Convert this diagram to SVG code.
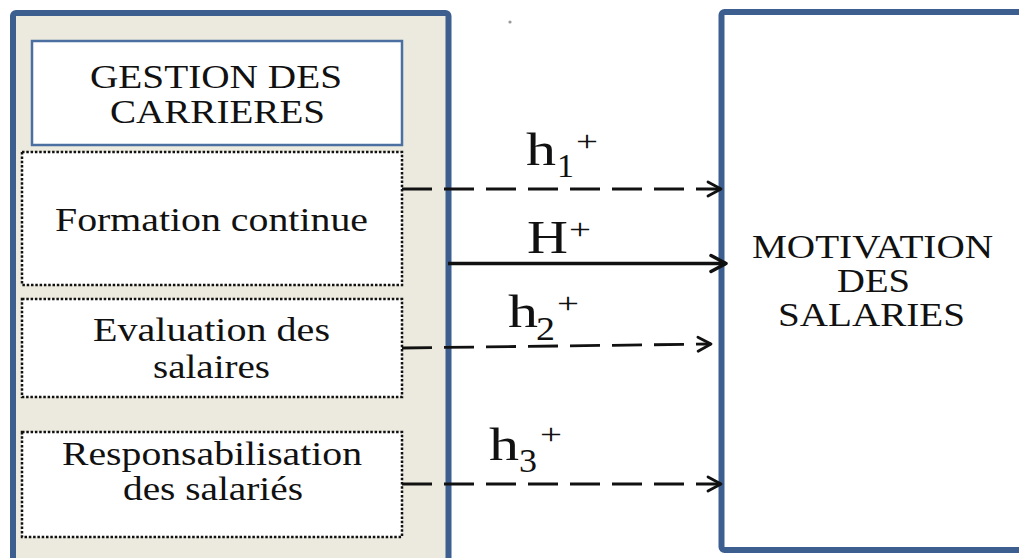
<svg xmlns="http://www.w3.org/2000/svg" width="1019" height="558" viewBox="0 0 1019 558">
<defs>
<style>
.t{font-family:"Liberation Serif","Times New Roman",serif;font-size:34px;fill:#111}
.lbl{font-family:"Liberation Serif","Times New Roman",serif;fill:#111}
.big{font-size:46px}
.sm{font-size:34px}
.sup{font-size:30px}
.panel{fill:#eceade;stroke:#3d5f8f;stroke-width:6}
.head{fill:#fff;stroke:#4a6fa0;stroke-width:2.5}
.dot{fill:#fff;stroke:#111;stroke-width:2.5;stroke-dasharray:2.5 1.8}
.dash{fill:none;stroke:#111;stroke-width:2.8;stroke-dasharray:30 12}
.solid{fill:none;stroke:#111;stroke-width:3.5}
</style>
<marker id="ah" markerUnits="userSpaceOnUse" markerWidth="18" markerHeight="18" refX="15" refY="9" orient="auto" overflow="visible">
<path d="M2,2 L15,9 L2,16" fill="none" stroke="#111" stroke-width="2.8" stroke-linecap="round" stroke-linejoin="round"/>
</marker>
<marker id="ahb" markerUnits="userSpaceOnUse" markerWidth="20" markerHeight="20" refX="17" refY="10" orient="auto" overflow="visible">
<path d="M2,2 L17,10 L2,18" fill="none" stroke="#111" stroke-width="3.5" stroke-linecap="round" stroke-linejoin="round"/>
</marker>
</defs>
<rect width="1019" height="558" fill="#fff"/>
<g id="panel-gestion">
<rect class="panel" x="13" y="13" width="435.5" height="600" rx="3"/>
</g>
<g id="node-gestion">
<rect class="head" x="32" y="41" width="370" height="104"/>
<text class="t"><tspan x="90" y="88" textLength="252" lengthAdjust="spacingAndGlyphs">GESTION DES</tspan><tspan x="110" y="123" textLength="215" lengthAdjust="spacingAndGlyphs">CARRIERES</tspan></text>
</g>
<g id="node-formation">
<rect class="dot" x="22" y="152" width="380" height="133"/>
<text class="t" x="55" y="231" textLength="313" lengthAdjust="spacingAndGlyphs">Formation continue</text>
</g>
<g id="node-evaluation">
<rect class="dot" x="22" y="299" width="380" height="98"/>
<text class="t"><tspan x="93" y="341" textLength="237" lengthAdjust="spacingAndGlyphs">Evaluation des</tspan><tspan x="153" y="378" textLength="117" lengthAdjust="spacingAndGlyphs">salaires</tspan></text>
</g>
<g id="node-responsabilisation">
<rect class="dot" x="22" y="432" width="380" height="105"/>
<text class="t"><tspan x="62" y="465" textLength="300" lengthAdjust="spacingAndGlyphs">Responsabilisation</tspan><tspan x="123" y="500" textLength="180" lengthAdjust="spacingAndGlyphs">des salariés</tspan></text>
</g>
<g id="node-motivation">
<rect class="panel" x="721.5" y="12" width="400" height="538" rx="3" style="fill:#fff"/>
<text class="t"><tspan x="752" y="258" textLength="241" lengthAdjust="spacingAndGlyphs">MOTIVATION</tspan><tspan x="837" y="292" textLength="73" lengthAdjust="spacingAndGlyphs">DES</tspan><tspan x="778" y="326" textLength="187" lengthAdjust="spacingAndGlyphs">SALARIES</tspan></text>
</g>
<circle cx="510" cy="22" r="1.6" fill="#999"/>
<g id="connectors">
<path class="dash" d="M402,189 L721,189" marker-end="url(#ah)"/>
<path class="solid" d="M448,263.5 L726,263.5" marker-end="url(#ahb)"/>
<path class="dash" d="M402,348 L711,344" marker-end="url(#ah)"/>
<path class="dash" d="M402,484 L721,484" marker-end="url(#ah)"/>
<text class="lbl"><tspan class="big" x="526" y="165" textLength="30" lengthAdjust="spacingAndGlyphs">h</tspan><tspan class="sm" x="557" y="177" textLength="17" lengthAdjust="spacingAndGlyphs">1</tspan><tspan class="sup" x="576" y="151" textLength="22" lengthAdjust="spacingAndGlyphs">+</tspan></text>
<text class="lbl"><tspan class="big" x="527" y="253" textLength="41" lengthAdjust="spacingAndGlyphs">H</tspan><tspan class="sup" x="569" y="239" textLength="22" lengthAdjust="spacingAndGlyphs">+</tspan></text>
<text class="lbl"><tspan class="big" x="508" y="327" textLength="30" lengthAdjust="spacingAndGlyphs">h</tspan><tspan class="sm" x="536" y="340" textLength="19" lengthAdjust="spacingAndGlyphs">2</tspan><tspan class="sup" x="557" y="313" textLength="22" lengthAdjust="spacingAndGlyphs">+</tspan></text>
<text class="lbl"><tspan class="big" x="489" y="460" textLength="30" lengthAdjust="spacingAndGlyphs">h</tspan><tspan class="sm" x="519" y="472" textLength="18" lengthAdjust="spacingAndGlyphs">3</tspan><tspan class="sup" x="540" y="444" textLength="22" lengthAdjust="spacingAndGlyphs">+</tspan></text>
</g>
</svg>
